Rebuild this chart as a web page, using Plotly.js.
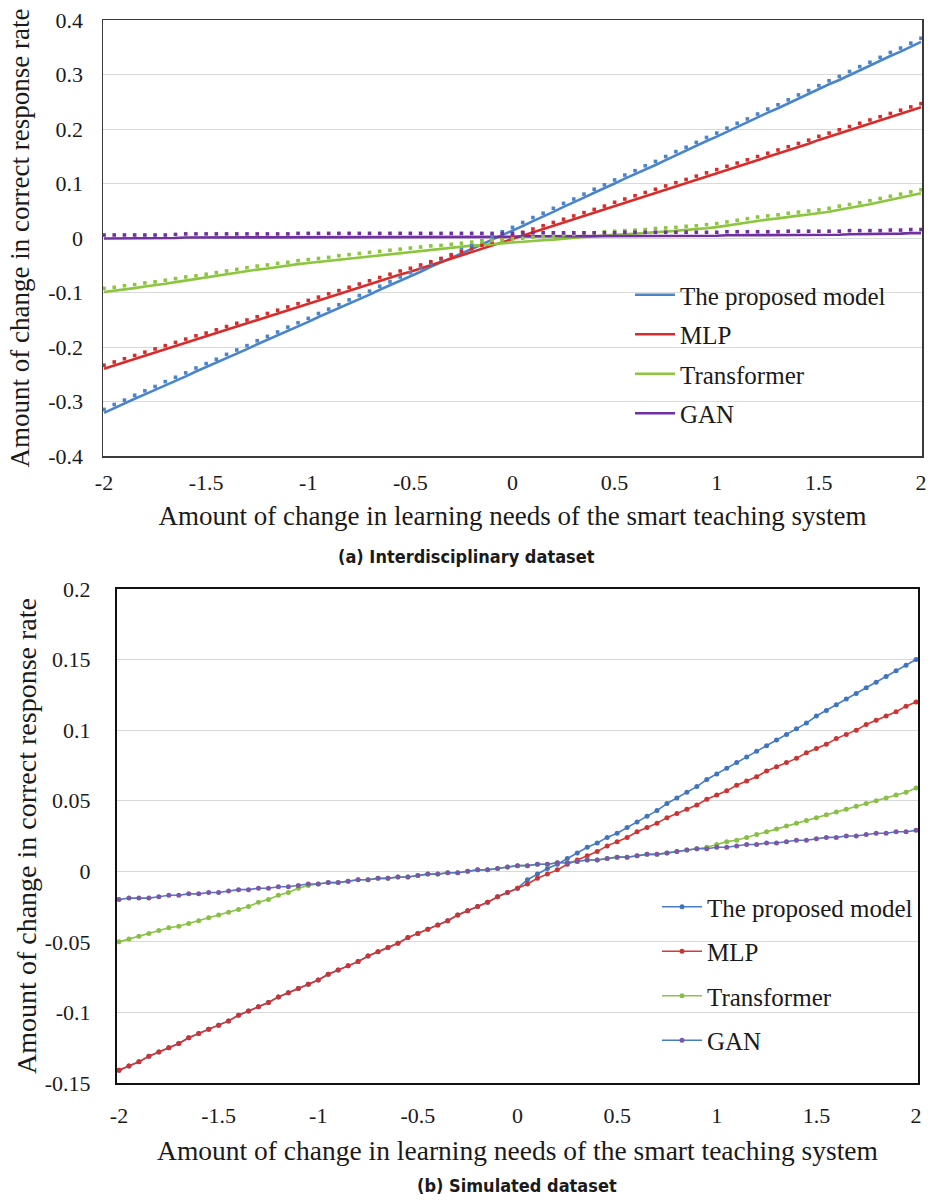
<!DOCTYPE html>
<html>
<head>
<meta charset="utf-8">
<script src="https://cdn.plot.ly/plotly-3.0.1.min.js"></script>
<style>
  html, body { margin: 0; padding: 0; background: #ffffff; }
  #chart { width: 930px; height: 1200px; }
</style>
</head>
<body>
<div id="chart"></div>
<script>
// ---------- shared x values (amount of change in learning needs) ----------
const xValues = [-2,-1.95,-1.9,-1.85,-1.8,-1.75,-1.7,-1.65,-1.6,-1.55,-1.5,-1.45,-1.4,-1.35,-1.3,-1.25,-1.2,-1.15,-1.1,-1.05,
  -1,-0.95,-0.9,-0.85,-0.8,-0.75,-0.7,-0.65,-0.6,-0.55,-0.5,-0.45,-0.4,-0.35,-0.3,-0.25,-0.2,-0.15,-0.1,-0.05,
  0,0.05,0.1,0.15,0.2,0.25,0.3,0.35,0.4,0.45,0.5,0.55,0.6,0.65,0.7,0.75,0.8,0.85,0.9,0.95,
  1,1.05,1.1,1.15,1.2,1.25,1.3,1.35,1.4,1.45,1.5,1.55,1.6,1.65,1.7,1.75,1.8,1.85,1.9,1.95,2];

const seriesNames = ["The proposed model", "MLP", "Transformer", "GAN"];

// ---------- (a) Interdisciplinary dataset ----------
const aProposed = [-0.321,-0.312,-0.304,-0.295,-0.287,-0.279,-0.270,-0.262,-0.254,-0.245,-0.237,-0.229,-0.220,-0.212,-0.204,-0.195,-0.187,-0.179,-0.170,-0.162,
  -0.154,-0.145,-0.137,-0.129,-0.120,-0.112,-0.104,-0.095,-0.087,-0.078,-0.070,-0.062,-0.053,-0.045,-0.037,-0.028,-0.020,-0.012,-0.003,0.005,
  0.013,0.022,0.031,0.039,0.048,0.057,0.065,0.074,0.083,0.091,0.100,0.109,0.117,0.126,0.134,0.143,0.152,0.160,0.169,0.178,
  0.186,0.195,0.204,0.212,0.221,0.230,0.238,0.247,0.256,0.264,0.273,0.282,0.290,0.299,0.308,0.316,0.325,0.334,0.342,0.351,0.360];
const aMLP = [-0.240,-0.234,-0.228,-0.222,-0.216,-0.210,-0.204,-0.198,-0.192,-0.186,-0.181,-0.175,-0.169,-0.163,-0.157,-0.151,-0.145,-0.139,-0.133,-0.127,
  -0.121,-0.115,-0.109,-0.103,-0.097,-0.091,-0.085,-0.079,-0.073,-0.067,-0.062,-0.056,-0.050,-0.044,-0.038,-0.032,-0.026,-0.020,-0.014,-0.008,
  -0.002,0.004,0.010,0.016,0.022,0.028,0.034,0.040,0.046,0.052,0.059,0.065,0.071,0.077,0.083,0.089,0.095,0.101,0.107,0.113,
  0.119,0.125,0.131,0.137,0.143,0.149,0.155,0.161,0.167,0.173,0.180,0.186,0.192,0.198,0.204,0.210,0.216,0.222,0.228,0.234,0.240];
const aTransformer = [-0.099,-0.097,-0.094,-0.092,-0.089,-0.087,-0.084,-0.081,-0.078,-0.076,-0.073,-0.070,-0.067,-0.064,-0.061,-0.058,-0.056,-0.053,-0.051,-0.048,
  -0.046,-0.044,-0.042,-0.039,-0.037,-0.035,-0.033,-0.031,-0.029,-0.027,-0.025,-0.023,-0.021,-0.020,-0.018,-0.016,-0.014,-0.013,-0.011,-0.010,
  -0.008,-0.007,-0.005,-0.004,-0.003,-0.001,0.000,0.002,0.003,0.005,0.006,0.007,0.008,0.009,0.011,0.012,0.013,0.015,0.016,0.018,
  0.020,0.023,0.026,0.029,0.032,0.034,0.036,0.039,0.041,0.043,0.045,0.048,0.052,0.055,0.058,0.062,0.066,0.070,0.074,0.078,0.082];
const aGAN = [-0.001,-0.001,-0.001,-0.001,-0.001,-0.001,-0.001,0.000,0.001,0.001,0.001,0.001,0.001,0.001,0.001,0.001,0.001,0.001,0.001,0.002,
  0.002,0.002,0.002,0.002,0.002,0.002,0.002,0.002,0.002,0.002,0.002,0.002,0.002,0.002,0.002,0.002,0.002,0.002,0.002,0.002,
  0.002,0.003,0.003,0.003,0.003,0.003,0.003,0.003,0.003,0.003,0.003,0.004,0.004,0.004,0.004,0.004,0.004,0.004,0.004,0.004,
  0.004,0.005,0.005,0.005,0.005,0.005,0.005,0.006,0.006,0.006,0.006,0.006,0.006,0.007,0.007,0.007,0.007,0.008,0.008,0.009,0.009];

// ---------- (b) Simulated dataset ----------
const bProposed = [-0.141,-0.138,-0.135,-0.131,-0.128,-0.125,-0.122,-0.118,-0.115,-0.112,-0.109,-0.106,-0.102,-0.099,-0.096,-0.093,-0.089,-0.086,-0.083,-0.080,
  -0.077,-0.073,-0.070,-0.067,-0.064,-0.060,-0.057,-0.054,-0.051,-0.047,-0.044,-0.041,-0.038,-0.035,-0.031,-0.028,-0.025,-0.022,-0.018,-0.015,
  -0.012,-0.006,-0.002,0.002,0.005,0.009,0.013,0.017,0.020,0.024,0.027,0.031,0.035,0.039,0.043,0.048,0.052,0.056,0.060,0.065,
  0.069,0.073,0.077,0.081,0.085,0.089,0.093,0.097,0.101,0.105,0.110,0.114,0.118,0.122,0.126,0.130,0.134,0.138,0.142,0.146,0.150];
const bMLP = [-0.141,-0.138,-0.135,-0.131,-0.128,-0.125,-0.122,-0.118,-0.115,-0.112,-0.109,-0.106,-0.102,-0.099,-0.096,-0.093,-0.089,-0.086,-0.083,-0.080,
  -0.077,-0.073,-0.070,-0.067,-0.064,-0.060,-0.057,-0.054,-0.051,-0.047,-0.044,-0.041,-0.038,-0.035,-0.031,-0.028,-0.025,-0.022,-0.018,-0.015,
  -0.012,-0.009,-0.005,-0.002,0.001,0.005,0.008,0.011,0.014,0.018,0.021,0.024,0.028,0.031,0.034,0.038,0.041,0.044,0.047,0.051,
  0.054,0.057,0.061,0.064,0.067,0.071,0.074,0.077,0.080,0.084,0.087,0.090,0.094,0.097,0.100,0.104,0.107,0.110,0.113,0.117,0.120];
const bTransformer = [-0.050,-0.048,-0.046,-0.044,-0.042,-0.040,-0.039,-0.037,-0.035,-0.033,-0.031,-0.029,-0.027,-0.025,-0.022,-0.020,-0.017,-0.015,-0.012,-0.010,
  -0.009,-0.008,-0.008,-0.007,-0.006,-0.006,-0.005,-0.005,-0.004,-0.004,-0.003,-0.002,-0.002,-0.001,-0.001,0.000,0.001,0.001,0.002,0.003,
  0.004,0.004,0.005,0.005,0.006,0.006,0.007,0.008,0.008,0.009,0.010,0.010,0.011,0.012,0.012,0.013,0.014,0.015,0.016,0.017,
  0.019,0.021,0.022,0.024,0.026,0.028,0.030,0.032,0.034,0.036,0.038,0.040,0.042,0.044,0.046,0.048,0.050,0.052,0.054,0.056,0.059];
const bGAN = [-0.020,-0.019,-0.019,-0.019,-0.018,-0.017,-0.017,-0.016,-0.016,-0.015,-0.015,-0.014,-0.013,-0.013,-0.012,-0.012,-0.011,-0.011,-0.010,-0.009,
  -0.009,-0.008,-0.008,-0.007,-0.006,-0.006,-0.005,-0.005,-0.004,-0.004,-0.003,-0.002,-0.002,-0.001,-0.001,0.000,0.001,0.001,0.002,0.003,
  0.004,0.004,0.005,0.005,0.006,0.006,0.007,0.008,0.008,0.009,0.010,0.010,0.011,0.012,0.012,0.013,0.014,0.015,0.016,0.016,
  0.017,0.017,0.018,0.019,0.019,0.020,0.020,0.021,0.022,0.022,0.023,0.024,0.024,0.025,0.025,0.026,0.027,0.027,0.028,0.028,0.029];

// ---------- tick labels ----------
const xTickVals = [-2,-1.5,-1,-0.5,0,0.5,1,1.5,2];
const xTickText = ["-2","-1.5","-1","-0.5","0","0.5","1","1.5","2"];
const aYTickVals = [-0.4,-0.3,-0.2,-0.1,0,0.1,0.2,0.3,0.4];
const aYTickText = ["-0.4","-0.3","-0.2","-0.1","0","0.1","0.2","0.3","0.4"];
const bYTickVals = [-0.15,-0.1,-0.05,0,0.05,0.1,0.15,0.2];
const bYTickText = ["-0.15","-0.1","-0.05","0","0.05","0.1","0.15","0.2"];

const xTitle = "Amount of change in learning needs of the smart teaching system";
const yTitle = "Amount of change in correct response rate";
const captionA = "(a) Interdisciplinary dataset";
const captionB = "(b) Simulated dataset";

// ---------- styling ----------
const W = 930, H = 1200;
const SERIF = "'Liberation Serif', 'Times New Roman', Times, serif";
const CAPTION_FONT = "'Liberation Sans Narrow', 'DejaVu Sans Condensed', 'Roboto', sans-serif";
const colorsA = ["#4A85C9", "#D62C2C", "#8CC63F", "#7030A0"];
const colorsBLine = ["#4A7EC4", "#D33A38", "#8DC24A", "#4A7EC4"];
const colorsBMarker = ["#3F74C2", "#CC3333", "#88BF44", "#7E55A8"];

function serifFont(size) { return { family: SERIF, size: size, color: "#1a1a1a" }; }

const aData = [aProposed, aMLP, aTransformer, aGAN];
const bData = [bProposed, bMLP, bTransformer, bGAN];

const traces = [];
// panel (a) lines
aData.forEach((ys, i) => {
  traces.push({
    type: "scatter", mode: "lines", x: xValues, y: ys, name: seriesNames[i],
    xaxis: "x", yaxis: "y", legend: "legend", legendgroup: "a" + i,
    line: { color: colorsA[i], width: 2.6 }
  });
});
// panel (a) small tick markers drawn just above the lines (overlay axis, shifted)
aData.forEach((ys, i) => {
  traces.push({
    type: "scatter", mode: "markers", x: xValues, y: ys, name: seriesNames[i],
    xaxis: "x", yaxis: "y3", showlegend: false, hoverinfo: "skip",
    marker: { color: colorsA[i], size: 3.6, symbol: "square" }
  });
});
// panel (b)
bData.forEach((ys, i) => {
  traces.push({
    type: "scatter", mode: "lines+markers", x: xValues, y: ys, name: seriesNames[i],
    xaxis: "x2", yaxis: "y2", legend: "legend2", legendgroup: "b" + i,
    line: { color: colorsBLine[i], width: 1.6 },
    marker: { color: colorsBMarker[i], size: 5, symbol: "circle" }
  });
});

const px = v => v / W;
const py = v => 1 - v / H;

const aYRange = [-0.4, 0.4];
const aShift = 0.0065;

function axisBase() {
  return {
    showline: true, mirror: true, zeroline: false,
    ticks: "outside", tickcolor: "rgba(0,0,0,0)",
    tickfont: serifFont(22)
  };
}

const layout = {
  width: W, height: H,
  margin: { l: 0, r: 0, t: 0, b: 0 },
  paper_bgcolor: "#ffffff", plot_bgcolor: "#ffffff",
  font: serifFont(22),
  showlegend: true,
  xaxis: Object.assign(axisBase(), {
    domain: [px(103), px(922)], range: [-2.005, 2.005], anchor: "y",
    tickvals: xTickVals, ticktext: xTickText, ticklen: 6,
    showgrid: false, linecolor: "#3a3a3a", linewidth: 1.5,
    title: { text: xTitle, standoff: 12, font: serifFont(27) }
  }),
  yaxis: Object.assign(axisBase(), {
    domain: [py(456), py(20)], range: aYRange, anchor: "x",
    tickvals: aYTickVals, ticktext: aYTickText, ticklen: 14,
    showgrid: true, gridcolor: "#D9D9D9", gridwidth: 1,
    linecolor: "#3a3a3a", linewidth: 1.5,
    title: { text: yTitle, standoff: 11, font: serifFont(27) }
  }),
  yaxis3: {
    overlaying: "y", anchor: "x", range: [aYRange[0] - aShift, aYRange[1] - aShift],
    visible: false, showgrid: false, zeroline: false
  },
  xaxis2: Object.assign(axisBase(), {
    domain: [px(117), px(918)], range: [-2.01, 2.01], anchor: "y2",
    tickvals: xTickVals, ticktext: xTickText, ticklen: 12,
    showgrid: false, linecolor: "#111111", linewidth: 2,
    title: { text: xTitle, standoff: 13, font: serifFont(27.5) }
  }),
  yaxis2: Object.assign(axisBase(), {
    domain: [py(1083), py(589)], range: [-0.15, 0.2], anchor: "x2",
    tickvals: bYTickVals, ticktext: bYTickText, ticklen: 20,
    showgrid: true, gridcolor: "#D9D9D9", gridwidth: 1,
    linecolor: "#111111", linewidth: 2,
    title: { text: yTitle, standoff: 0, font: serifFont(28) }
  }),
  legend: {
    x: px(630), y: py(272), xanchor: "left", yanchor: "top",
    bgcolor: "rgba(255,255,255,0)", borderwidth: 0,
    font: serifFont(25),
    tracegroupgap: 4, itemwidth: 40
  },
  legend2: {
    x: px(657), y: py(884), xanchor: "left", yanchor: "top",
    bgcolor: "rgba(255,255,255,0)", borderwidth: 0,
    font: serifFont(25),
    tracegroupgap: 9, itemwidth: 40
  },
  annotations: [
    { text: "<b>" + captionA + "</b>", xref: "paper", yref: "paper", x: px(466), y: py(556),
      xanchor: "center", yanchor: "middle", showarrow: false,
      font: { family: CAPTION_FONT, size: 18, color: "#1a1a1a" } },
    { text: "<b>" + captionB + "</b>", xref: "paper", yref: "paper", x: px(517), y: py(1185),
      xanchor: "center", yanchor: "middle", showarrow: false,
      font: { family: CAPTION_FONT, size: 18, color: "#1a1a1a" } }
  ]
};

Plotly.newPlot("chart", traces, layout, { displayModeBar: false, staticPlot: true });
</script>
</body>
</html>
